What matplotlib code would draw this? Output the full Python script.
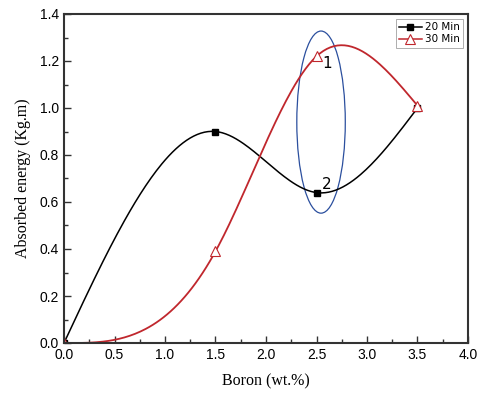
import numpy as np
import matplotlib.pyplot as plt
from matplotlib.patches import Ellipse
from matplotlib.ticker import MultipleLocator

# Datos
boron = [0.0, 1.5, 2.5, 3.5]
energy_20 = [0.0, 0.90, 0.64, 1.00]
energy_30 = [0.0, 0.39, 1.22, 1.01]


def natural_spline(x, y, n=200):
    # spline cubico natural solo para trazar la linea entre los puntos
    x = np.asarray(x, float)
    y = np.asarray(y, float)
    h = np.diff(x)
    k = len(x)
    A = np.zeros((k, k))
    b = np.zeros(k)
    A[0, 0] = A[-1, -1] = 1
    for i in range(1, k - 1):
        A[i, i - 1] = h[i - 1]
        A[i, i] = 2 * (h[i - 1] + h[i])
        A[i, i + 1] = h[i]
        b[i] = 6 * ((y[i + 1] - y[i]) / h[i] - (y[i] - y[i - 1]) / h[i - 1])
    M = np.linalg.solve(A, b)
    xs = np.linspace(x[0], x[-1], n)
    idx = np.clip(np.searchsorted(x, xs) - 1, 0, k - 2)
    x0, x1 = x[idx], x[idx + 1]
    hh = x1 - x0
    ys = (M[idx] * (x1 - xs) ** 3 / (6 * hh) + M[idx + 1] * (xs - x0) ** 3 / (6 * hh)
          + (y[idx] / hh - M[idx] * hh / 6) * (x1 - xs)
          + (y[idx + 1] / hh - M[idx + 1] * hh / 6) * (xs - x0))
    return xs, ys


fig = plt.figure(figsize=(4.85, 3.93), dpi=100)
ax = fig.add_axes([64 / 485, 1 - 343 / 393, 404 / 485, 329 / 393])

red = '#c0272d'
xs, ys = natural_spline(boron, energy_20)
ax.plot(xs, ys, color='black', lw=1.1)
ax.plot(boron, energy_20, 's', color='black', ms=5)
xs, ys = natural_spline(boron, energy_30)
ax.plot(xs, ys, color=red, lw=1.3)
ax.plot(boron, energy_30, '^', color=red, mfc='white', ms=6.5, mew=0.8)

# entradas de la leyenda
ax.plot([], [], '-s', color='black', ms=5, lw=1.1, label='20 Min')
ax.plot([], [], '-^', color=red, mfc='white', ms=6.5, mew=0.8, lw=1.1, label='30 Min')
leg = ax.legend(loc='upper right', fontsize=7.5, frameon=True, fancybox=False,
                borderpad=0.3, handlelength=2.2, labelspacing=0.2, handletextpad=0.3,
                borderaxespad=0.5)
leg.get_frame().set_edgecolor('#999999')
leg.get_frame().set_linewidth(0.7)

# elipse y numeros
ax.add_patch(Ellipse((2.545, 0.94), 0.48, 0.775, fill=False, edgecolor='#2b4f9e', lw=0.9))
ax.text(2.56, 1.17, '1', fontsize=11, family='DejaVu Sans')
ax.text(2.55, 0.655, '2', fontsize=11, family='DejaVu Sans')

ax.set_xlim(0, 4)
ax.set_ylim(0, 1.4)
ax.xaxis.set_major_locator(MultipleLocator(0.5))
ax.xaxis.set_minor_locator(MultipleLocator(0.25))
ax.yaxis.set_major_locator(MultipleLocator(0.2))
ax.yaxis.set_minor_locator(MultipleLocator(0.1))
ax.tick_params(which='both', direction='in', top=False, right=False,
               color='#333333', labelsize=10)
ax.tick_params(which='major', length=5, width=1)
ax.tick_params(which='minor', length=3, width=1)
for lab in ax.get_xticklabels() + ax.get_yticklabels():
    lab.set_family('Liberation Sans')
for s in ax.spines.values():
    s.set_linewidth(1.5)
    s.set_color('#333333')

ax.set_xlabel('Boron (wt.%)', family='Liberation Serif', fontsize=11.5, labelpad=8)
ax.set_ylabel('Absorbed energy (Kg.m)', family='Liberation Serif', fontsize=11.5, labelpad=6)

fig.savefig('out.png', dpi=100)
